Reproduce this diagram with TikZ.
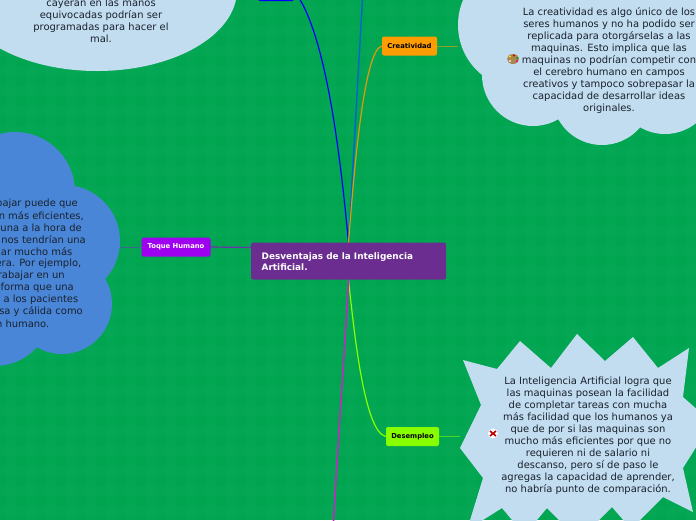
\documentclass[tikz,border=0pt]{standalone}
\usepackage{fontspec}
\setmainfont{DejaVu Sans}
\definecolor{bggreen}{HTML}{00A550}
\definecolor{gridgreen}{HTML}{0FAE5C}
\definecolor{cloudblue}{HTML}{C2DCF0}
\definecolor{deepblue}{HTML}{4A86D8}
\definecolor{ink}{HTML}{18212C}
\definecolor{centralpurple}{HTML}{6B2D8F}
\definecolor{limegreen}{HTML}{88FF00}
\definecolor{amber}{HTML}{FF9C00}
\definecolor{violetnode}{HTML}{A000F0}
\definecolor{palettetan}{HTML}{A98850}
\tikzset{
  x=1pt,y=-1pt,
  topic/.style={draw=none,rounded corners=2pt,inner sep=0pt,minimum height=19pt,font=\fontsize{6.8}{8}\selectfont\bfseries},
  body/.style={align=center,text=ink,font=\fontsize{9.95}{12}\selectfont,inner sep=0pt},
  linetext/.style={text=ink,font=\fontsize{9.95}{12}\selectfont,inner sep=0pt,anchor=east},
  link/.style={line width=1.2pt},
  stub/.style={line width=0.9pt,opacity=.55},
  centralbox/.style={rounded corners=2pt,fill=centralpurple,minimum width=195pt,minimum height=37pt,inner sep=0pt},
}
\begin{document}
\begin{tikzpicture}
\useasboundingbox (0,0) rectangle (696,520);
\clip (0,0) rectangle (696,520);
\fill[bggreen] (0,0) rectangle (696,520);
\foreach \k in {0,...,34}{\fill[gridgreen,opacity=.2] (\k*20+6,0) rectangle ++(10,520);}
\foreach \k in {0,...,26}{\fill[gridgreen,opacity=.2] (0,\k*20+6) rectangle ++(696,10);}

% top-left oval
\fill[cloudblue] (97,-10) ellipse [x radius=140,y radius=81];
\node[body] at (101,21) {cayeran en las manos\\equivocadas podrían ser\\programadas para hacer el\\mal.};

% creativity cloud
\fill[cloudblue] (522,25) circle (64) (533,75) circle (51) (602,95) circle (50) (665,84) circle (50) (610,20) circle (85) (670,30) circle (50);
\node[body] (ctext) at (609,60.5) {La creatividad es algo único de los\\seres humanos y no ha podido ser\\replicada para otorgárselas a las\\maquinas. Esto implica que las\\maquinas no podrían competir con\\el cerebro humano en campos\\creativos y tampoco sobrepasar la\\capacidad de desarrollar ideas\\originales.};
% palette icon
\fill[palettetan] (513,59) ellipse [x radius=6,y radius=5];
\fill[yellow!80!orange] (510,56.5) circle (1.2);
\fill[red!80!black] (514,55.5) circle (1.2);
\fill[green!60!black] (517.5,58) circle (1.2);
\fill[magenta] (517,61) circle (1.1);
\fill[white!85!brown] (510,61) circle (1.2);

% left cloud
\fill[deepblue] (15,192) circle (60) (64,241) circle (56) (62,304) circle (50) (-5,310) circle (56) (0,250) circle (70);
\foreach \ex/\ey/\t in {78/204/{bajar puede que},84/216/{n más eficientes,},82/228/{una a la hora de},86/240/{nos tendrían una},72.5/252/{ar mucho más},81.5/264/{era. Por ejemplo,},65/276/{rabajar en un},74/288/{forma que una},78.5/300/{a los pacientes},83/312/{sa y cálida como},49.5/324/{n humano.}}
  {\node[linetext] at (\ex,\ey) {\t};}

% spiky shape
\fill[cloudblue] (463,360) -- (497,369) -- (520,341) -- (551,368) -- (577,334) -- (605,361) -- (633,337) -- (658,368) -- (689,348) -- (683,397) -- (700,412) -- (700,441) -- (683,468) -- (693,512) -- (663,497) -- (631,529) -- (612,507) -- (579,540) -- (547,508) -- (524.5,535) -- (502,508) -- (483,520) -- (467,530) -- (483,478) -- (460,448) -- (481,405) -- cycle;
\node[body] (dtext) at (588,435.5) {La Inteligencia Artificial logra que\\las maquinas posean la facilidad\\de completar tareas con mucha\\más facilidad que los humanos ya\\que de por si las maquinas son\\mucho más eficientes por que no\\requieren ni de salario ni\\descanso, pero sí de paso le\\agregas la capacidad de aprender,\\no habría punto de comparación.};
% cross icon
\fill[white] (493,433.5) circle (5);
\draw[red!75!black,line width=1.6pt] (490,431) -- (496,436) (496,431) -- (490,436);

% nodes
\node[topic,fill=amber,minimum width=55pt,text=black] (creat) at (409.5,46) {Creatividad};
\node[topic,fill=limegreen,minimum width=53pt,text=black] (desem) at (412.5,436.5) {Desempleo};
\node[topic,fill=violetnode,minimum width=69pt,text=white] (toque) at (176,247) {Toque Humano};
\node[fill=blue,minimum width=36pt,minimum height=20pt,inner sep=0pt,rounded corners=2pt] (tblue) at (276,-9) {};
\coordinate (topend) at (363,-10);
\coordinate (botend) at (333,530);
\coordinate (hub) at (348.5,243);
\coordinate (hubb) at (348.5,280);
\coordinate (hubw) at (252,247.5);

% connectors
\draw[link,blue] (hub) .. controls (340,150) and (325,30) .. (tblue.east);
\draw[line width=1.4pt,color={rgb,255:red,0;green,100;blue,210}] (hub) -- (topend);
\draw[link,color={rgb,255:red,224;green,154;blue,16}] (hub) .. controls (354,170) and (364,50) .. (creat.west);
\draw[link,color=limegreen] (hubb) .. controls (354,330) and (364,432) .. (desem.west);
\draw[line width=1.6pt,color={rgb,255:red,195;green,40;blue,195}] (hubb) .. controls (346,330) and (338,440) .. (botend);
\draw[link,color={rgb,255:red,110;green,50;blue,170}] (hubw) -- (toque.east);
\draw[stub,color=amber] (creat.east) -- (458,46);
\draw[stub,color=limegreen] (desem.east) -- (460,436.5);
\draw[stub,color={rgb,255:red,110;green,50;blue,200}] (toque.west) -- (120,247);
\node[centralbox] (central) at (348.5,261) {};
\node[anchor=west,text=white,align=left,inner sep=0pt,font=\fontsize{8.9}{11}\selectfont\bfseries] (ctitle) at (261.5,261.5) {Desventajas de la Inteligencia\\Artificial.};
\end{tikzpicture}
\end{document}
